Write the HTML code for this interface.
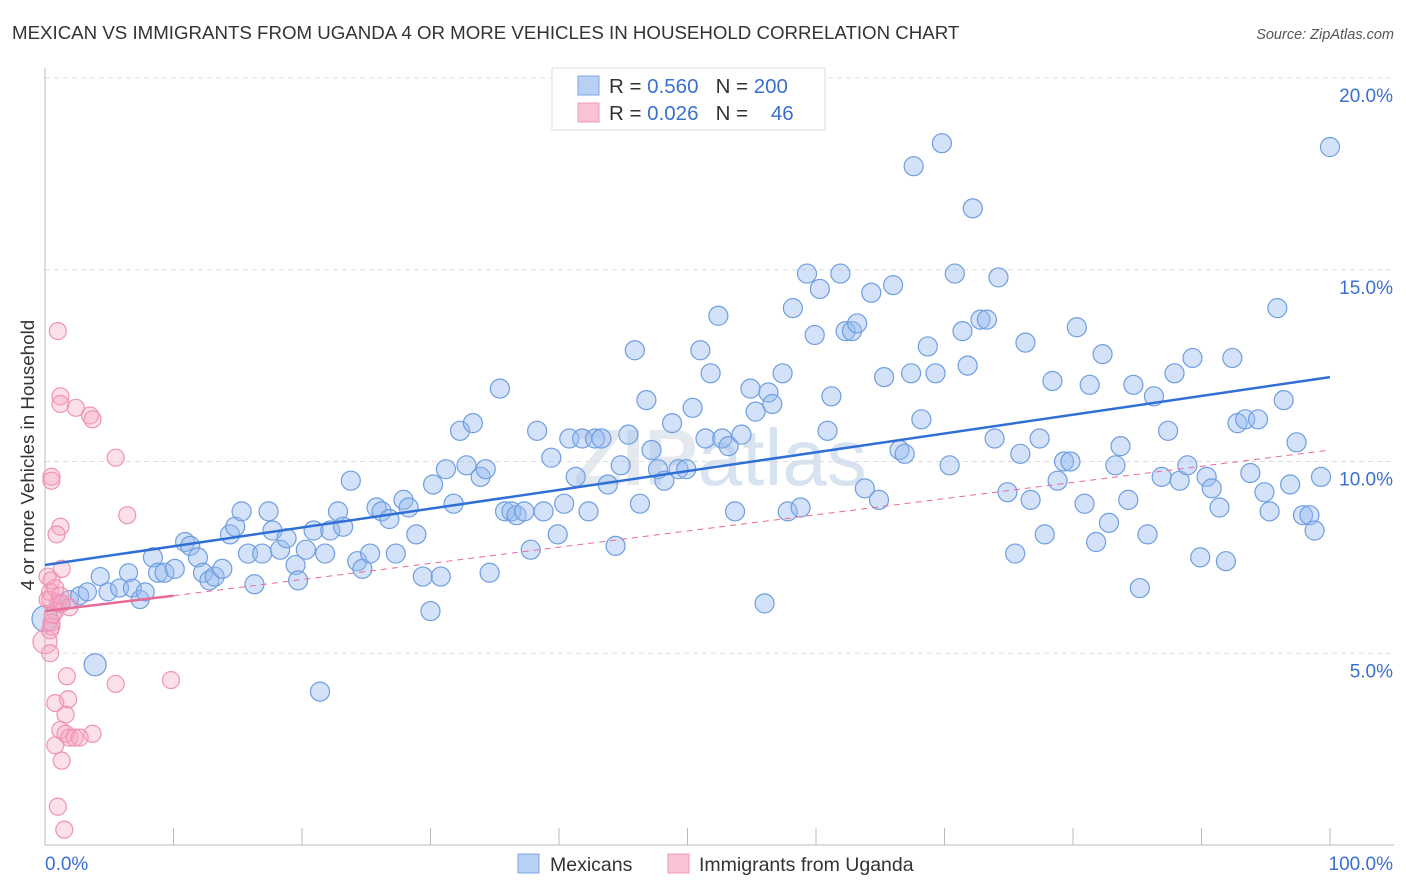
<!DOCTYPE html>
<html><head><meta charset="utf-8"><style>
body{margin:0;background:#fff;font-family:"Liberation Sans",sans-serif;}
svg{display:block}
</style></head><body>
<svg width="1406" height="892" xmlns="http://www.w3.org/2000/svg">
<text x="12" y="39" font-size="18.7" fill="#333">MEXICAN VS IMMIGRANTS FROM UGANDA 4 OR MORE VEHICLES IN HOUSEHOLD CORRELATION CHART</text>
<text x="1394" y="39" font-size="14.5" fill="#555" font-style="italic" text-anchor="end">Source: ZipAtlas.com</text>
<text x="720" y="485" font-size="80" fill="#e4e9f0" text-anchor="middle" font-weight="bold">ZIP<tspan font-weight="normal" fill="#d8e3f2">atlas</tspan></text>
<g id="grid"></g>
<g id="axes"></g>
<g id="pts"></g>
<g id="lines"></g>
<text transform="translate(34,455) rotate(-90)" font-size="18.8" fill="#333" text-anchor="middle">4 or more Vehicles in Household</text>
<g>
<rect x="552" y="68" width="273" height="62" fill="#fff" stroke="#ddd"/>
<rect x="578" y="76" width="21" height="19" fill="#b8d0f3" stroke="#7ea6e3"/>
<rect x="578" y="103" width="21" height="19" fill="#f9c3d3" stroke="#ef9ab8"/>
<text x="609" y="93" font-size="20.5" fill="#333" xml:space="preserve">R = <tspan fill="#3a70d0">0.560</tspan>   N = <tspan fill="#3a70d0">200</tspan></text>
<text x="609" y="120" font-size="20.5" fill="#333" xml:space="preserve">R = <tspan fill="#3a70d0">0.026</tspan>   N =    <tspan fill="#3a70d0">46</tspan></text>
</g>
<g>
<rect x="518" y="854" width="21" height="19" fill="#b8d0f3" stroke="#7ea6e3"/>
<text x="550" y="871" font-size="19.5" fill="#333">Mexicans</text>
<rect x="668" y="854" width="21" height="19" fill="#f9c3d3" stroke="#ef9ab8"/>
<text x="699" y="871" font-size="19.5" fill="#333">Immigrants from Uganda</text>
</g>
</svg>
<script>
const blueX=[0,1.2,1.9,2.7,3.3,4.3,4.9,5.8,6.5,6.8,7.4,7.8,3.9,8.4,8.8,9.3,10.1,10.9,11.3,11.9,12.3,12.8,13.2,13.8,14.4,14.8,15.3,15.8,16.3,16.9,17.4,17.7,18.3,18.8,19.5,19.7,20.3,20.9,21.4,21.8,22.2,22.8,23.2,23.8,24.3,24.7,25.3,25.8,26.2,26.8,27.3,27.9,28.3,28.9,29.4,30.0,30.2,30.8,31.2,31.8,32.3,32.8,33.3,33.9,34.3,34.6,35.4,35.8,36.3,36.7,37.3,37.8,38.3,38.8,39.4,39.9,40.4,40.8,41.3,41.8,42.3,42.8,43.3,43.8,44.4,44.8,45.4,45.9,46.3,46.8,47.2,47.7,48.2,48.8,49.3,49.9,50.4,51.0,51.4,51.8,52.4,52.7,53.2,53.7,54.2,54.9,55.3,56.0,56.3,56.6,57.4,57.8,58.2,58.8,59.3,59.9,60.3,60.9,61.2,61.9,62.3,62.8,63.2,63.8,64.3,64.9,65.3,66.0,66.5,66.9,67.4,67.6,68.2,68.7,69.3,69.8,70.4,70.8,71.4,71.8,72.2,72.8,73.3,73.9,74.2,74.9,75.5,75.9,76.3,76.7,77.4,77.8,78.4,78.8,79.3,79.8,80.3,80.9,81.3,81.8,82.3,82.8,83.3,83.7,84.3,84.7,85.2,85.8,86.3,86.9,87.4,87.9,88.3,88.9,89.3,89.9,90.4,90.8,91.4,91.9,92.4,92.8,93.4,93.8,94.4,94.9,95.3,95.9,96.4,96.9,97.4,97.9,98.4,98.8,99.3,100];
const blueY=[5.9,6.3,6.4,6.5,6.6,7.0,6.6,6.7,7.1,6.7,6.4,6.6,4.7,7.5,7.1,7.1,7.2,7.9,7.8,7.5,7.1,6.9,7.0,7.2,8.1,8.3,8.7,7.6,6.8,7.6,8.7,8.2,7.7,8.0,7.3,6.9,7.7,8.2,4.0,7.6,8.2,8.7,8.3,9.5,7.4,7.2,7.6,8.8,8.7,8.5,7.6,9.0,8.8,8.1,7.0,6.1,9.4,7.0,9.8,8.9,10.8,9.9,11.0,9.6,9.8,7.1,11.9,8.7,8.7,8.6,8.7,7.7,10.8,8.7,10.1,8.1,8.9,10.6,9.6,10.6,8.7,10.6,10.6,9.4,7.8,9.9,10.7,12.9,8.9,11.6,10.3,9.8,9.5,11.0,9.8,9.8,11.4,12.9,10.6,12.3,13.8,10.6,10.4,8.7,10.7,11.9,11.3,6.3,11.8,11.5,12.3,8.7,14.0,8.8,14.9,13.3,14.5,10.8,11.7,14.9,13.4,13.4,13.6,9.3,14.4,9.0,12.2,14.6,10.3,10.2,12.3,17.7,11.1,13.0,12.3,18.3,9.9,14.9,13.4,12.5,16.6,13.7,13.7,10.6,14.8,9.2,7.6,10.2,13.1,9.0,10.6,8.1,12.1,9.5,10.0,10.0,13.5,8.9,12.0,7.9,12.8,8.4,9.9,10.4,9.0,12.0,6.7,8.1,11.7,9.6,10.8,12.3,9.5,9.9,12.7,7.5,9.6,9.3,8.8,7.4,12.7,11.0,11.1,9.7,11.1,9.2,8.7,14.0,11.6,9.4,10.5,8.6,8.6,8.2,9.6,18.2];
const blueR=[13,9,9,9,9,9,9,9,9,9,9,9,11];
const pinkX=[0,0.2,0.4,0.5,0.5,0.8,0.4,0.8,0.8,1.0,1.2,1.3,1.5,1.0,1.2,1.2,1.3,1.2,0.9,0.5,0.5,1.6,1.6,1.7,1.8,1.9,2.3,2.4,3.5,3.7,3.7,5.5,5.5,6.4,9.8,0.4,0.5,0.6,1.0,0.2,0.4,0.8,1.2,1.3,1.9,2.7];
const pinkY=[5.3,6.4,6.6,6.9,5.7,6.1,5.0,3.7,2.6,1.0,3.0,2.2,0.4,13.4,11.7,11.5,7.2,8.3,8.1,9.6,9.5,3.4,2.9,4.4,3.8,2.8,2.8,11.4,11.2,11.1,2.9,10.1,4.2,8.6,4.3,5.6,5.8,6.0,6.3,7.0,6.4,6.7,6.5,6.3,6.2,2.8];
const blueTrend=[7.3,12.2];
const pinkTrend=[6.1,6.5,10.3];
const yTicks=[5,10,15,20];
const yTickLabels=["5.0%","10.0%","15.0%","20.0%"];
const xLabels=["0.0%","100.0%"];
const NS="http://www.w3.org/2000/svg";
const X=v=>45+v*12.85, Y=v=>845-v*38.35;
function mk(tag,attrs,parent){const e=document.createElementNS(NS,tag);for(const k in attrs)e.setAttribute(k,attrs[k]);document.getElementById(parent).appendChild(e);return e;}
yTicks.forEach((t,i)=>{
 const l=mk('line',{x1:45,x2:1394,y1:Y(t),y2:Y(t),stroke:'#ddd','stroke-dasharray':'5,4'},'grid');
 
 
 const tx=mk('text',{x:1393,y:Y(t)+24,'font-size':19,fill:'#3a70d0','text-anchor':'end'},'grid');
 tx.textContent=yTickLabels[i];
 
 
});
const ax=mk('line',{x1:45,x2:45,y1:68,y2:845,stroke:'#bbb'},'axes');


const bx=mk('line',{x1:45,x2:1394,y1:845,y2:845,stroke:'#bbb'},'axes');


for(let i=0;i<=10;i++){const t=mk('line',{x1:X(i*10),x2:X(i*10),y1:828,y2:845,stroke:'#bbb'},'axes');
 
 }
const xl0=mk('text',{x:45,y:870,'font-size':19,fill:'#3a70d0'},'axes');xl0.textContent=xLabels[0];


const xl1=mk('text',{x:1393,y:870,'font-size':19,fill:'#3a70d0','text-anchor':'end'},'axes');xl1.textContent=xLabels[1];


blueX.forEach((x,i)=>{const c=mk('circle',{cx:X(x),cy:Y(blueY[i]),r:blueR[i]||9.5,fill:'rgba(150,185,238,0.42)',stroke:'#6f9ee0','stroke-width':1.2},'pts');
 
 });
pinkX.forEach((x,i)=>{const c=mk('circle',{cx:X(x),cy:Y(pinkY[i]),r:i==0?12:8.5,fill:'rgba(245,165,192,0.35)',stroke:'#ef93b3','stroke-width':1.2},'pts');
 
 });
const bl=mk('line',{x1:X(0),y1:Y(blueTrend[0]),x2:X(100),y2:Y(blueTrend[1]),stroke:'#2f6fd6','stroke-width':2.5},'lines');


const pd=mk('line',{x1:X(10),y1:Y(pinkTrend[1]),x2:X(100),y2:Y(pinkTrend[2]),stroke:'#e86a98','stroke-width':1,'stroke-dasharray':'6,5'},'lines');


const ps=mk('line',{x1:X(0),y1:Y(pinkTrend[0]),x2:X(10),y2:Y(pinkTrend[1]),stroke:'#e86a98','stroke-width':2.5},'lines');


</script>
</body></html>
